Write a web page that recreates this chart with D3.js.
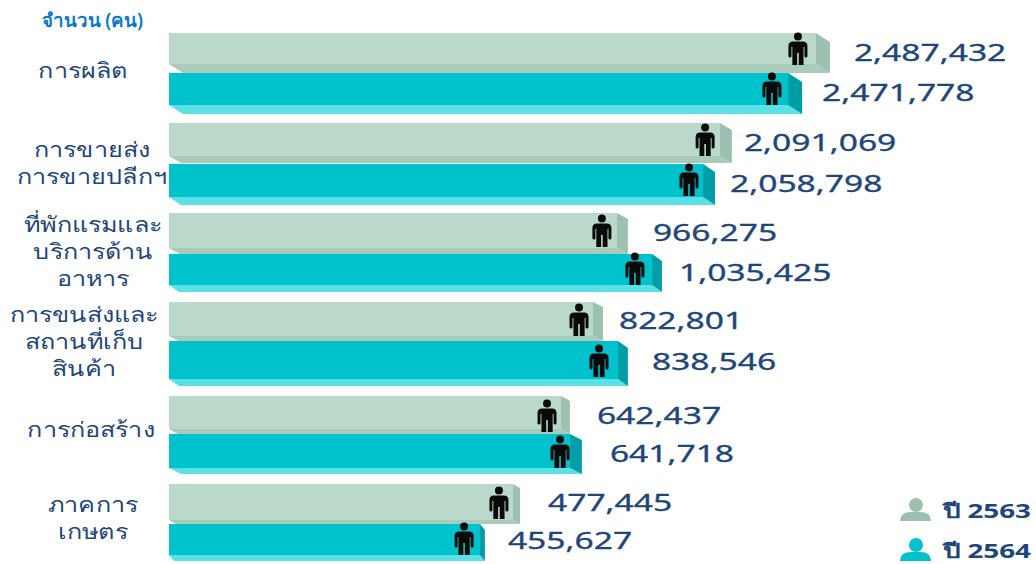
<!DOCTYPE html>
<html lang="th">
<head>
<meta charset="utf-8">
<script src="https://cdn.jsdelivr.net/npm/d3@7"></script>
<style>
html,body{margin:0;padding:0;background:#fff;overflow:hidden}
svg{display:block}
text{font-family:"Noto Sans","DejaVu Sans",sans-serif}
</style>
</head>
<body>
<div id="chart"></div>
<script>
// ---- data ----
const categories = ["การผลิต","การขายส่งการขายปลีกฯ","ที่พักแรมและบริการด้านอาหาร","การขนส่งและสถานที่เก็บสินค้า","การก่อสร้าง","ภาคการเกษตร"];
const categoryLines = [["การผลิต"],["การขายส่ง","การขายปลีกฯ"],["ที่พักแรมและ","บริการด้าน","อาหาร"],["การขนส่งและ","สถานที่เก็บ","สินค้า"],["การก่อสร้าง"],["ภาคการ","เกษตร"]];
const seriesNames = ["ปี 2563","ปี 2564"];
// values printed next to the bars
const values2563 = [2487432,2091069,966275,822801,642437,477445];
const values2564 = [2471778,2058798,1035425,838546,641718,455627];
// The reference's bars are not proportional to their printed values, so the
// lengths as actually drawn are read off the picture, in persons on one linear scale.
const drawn2563 = [2488000,2119000,1723000,1631000,1508000,1323000];
const drawn2564 = [2381000,2054000,1858000,1727000,1542000,1196000];
const sideEnd2563 = [2542000,2165000,1765000,1669000,1542000,1350000];
const sideEnd2564 = [2435000,2100000,1896000,1765000,1588000,1215000];
const figure2563 = [2419000,2062000,1665000,1577000,1454000,1269000];
const figure2564 = [2319000,2000000,1792000,1654000,1504000,1135000];

// ---- layout ----
const W = 1036, H = 564;
const x = d3.scaleLinear().domain([0,2500000]).range([169,819]);
const layout = [
  {name:seriesNames[0], values:values2563, drawn:drawn2563, sideEnd:sideEnd2563, figure:figure2563,
   top:[33,123,213,302,396,484], front:[64,156,248,336,429,520], bottom:[73,163,254,341,434,524],
   figureY:[49,140,231,320,416,503],
   gap:[24,12,25,16,27,28], textY:[53,143,233,321,416,503],
   fill:"#bbd9ca", bevel:"#a9cbba", side:"#9dc1b1"},
  {name:seriesNames[1], values:values2564, drawn:drawn2564, sideEnd:sideEnd2564, figure:figure2564,
   top:[73,164,254,341,434,524], front:[105,197,285,379,468,555], bottom:[114,205,292,386,474,561],
   figureY:[89,180,269,361,452,539],
   gap:[20,15,17,24,28,23], textY:[93,184,273,362,454,541],
   fill:"#00c2cc", bevel:"#5be0e6", side:"#009fa8"}
];
const catX = [83,92,93,84,91,93];
const catY = [[71],[150,177],[225,252,279],[315,342,369],[430],[505,532]];
const navy = "#1f4679";
const personPath = "M-4-12.5a4 4 0 1 0 8 0a4 4 0 1 0-8 0Z"
  + "M-5-7.5H5Q9.5-7.5 9.5-3V7Q9.5 8.5 8 8.5T6.5 7V-2H5.6V16H.8V4H-.8V16H-5.6V-2H-6.5V7Q-6.5 8.5-8 8.5T-9.5 7V-3Q-9.5-7.5-5-7.5Z";

const svg = d3.select("#chart").append("svg").attr("width",W).attr("height",H);

svg.append("text").attr("transform","translate(42,27) scale(0.98,1)")
  .attr("font-size",19).attr("font-weight",600).attr("fill","#0b78c8")
  .text("จำนวน (คน)");

// category labels
const catG = svg.selectAll("g.cat").data(categories).join("g").attr("class","cat");
catG.each(function(d,i){
  d3.select(this).selectAll("text").data(categoryLines[i]).join("text")
    .attr("text-anchor","middle").attr("dominant-baseline","middle")
    .attr("transform",(l,j)=>`translate(${catX[i]},${catY[i][j]+1}) scale(1.2,1)`)
    .attr("font-size",21).attr("fill",navy).text(l=>l);
});

// bars
layout.forEach(s=>{
  const g = svg.append("g").attr("class","series");
  categories.forEach((c,i)=>{
    const x0 = x(0), xf = x(s.drawn[i]), xo = x(s.sideEnd[i]);
    const t = s.top[i], f = s.front[i], b = s.bottom[i], dp = xo-xf, dy = b-f;
    g.append("rect").attr("x",x0).attr("y",t).attr("width",xf-x0).attr("height",f-t).attr("fill",s.fill);
    g.append("polygon").attr("points",[[x0,f],[xf,f],[xo,b],[x0+dp,b]].join(" ")).attr("fill",s.bevel);
    g.append("polygon").attr("points",[[xf,t],[xo,t+dy],[xo,b],[xf,f]].join(" ")).attr("fill",s.side);
    g.append("path").attr("d",personPath).attr("fill","#0a0a0a")
      .attr("transform",`translate(${x(s.figure[i])},${s.figureY[i]})`);
    g.append("text").attr("dominant-baseline","middle")
      .attr("transform",`translate(${xo+s.gap[i]},${s.textY[i]+2}) scale(1.46,1)`)
      .attr("font-size",23).attr("font-family","'DejaVu Sans',sans-serif").attr("fill",navy)
      .attr("stroke",navy).attr("stroke-width",0.3)
      .text(d3.format(",")(s.values[i]));
  });
});

// legend
const legend = [
  {label:seriesNames[0], color:"#9dc1b1", cy:505, by:512, ty:513},
  {label:seriesNames[1], color:"#00c2cc", cy:545, by:552, ty:553}
];
const lg = svg.selectAll("g.legend").data(legend).join("g").attr("class","legend");
lg.append("circle").attr("cx",916).attr("cy",d=>d.cy).attr("r",7).attr("fill",d=>d.color);
lg.append("path").attr("fill",d=>d.color)
  .attr("d",d=>`M900 ${d.by+9}Q900 ${d.by} 911 ${d.by}H920Q931 ${d.by} 931 ${d.by+9}Z`);
lg.append("text").attr("dominant-baseline","middle")
  .attr("transform",d=>`translate(943,${d.ty}) scale(1.39,1)`)
  .attr("font-size",20).attr("font-weight",700).attr("fill",navy).text(d=>d.label);
</script>
</body>
</html>
